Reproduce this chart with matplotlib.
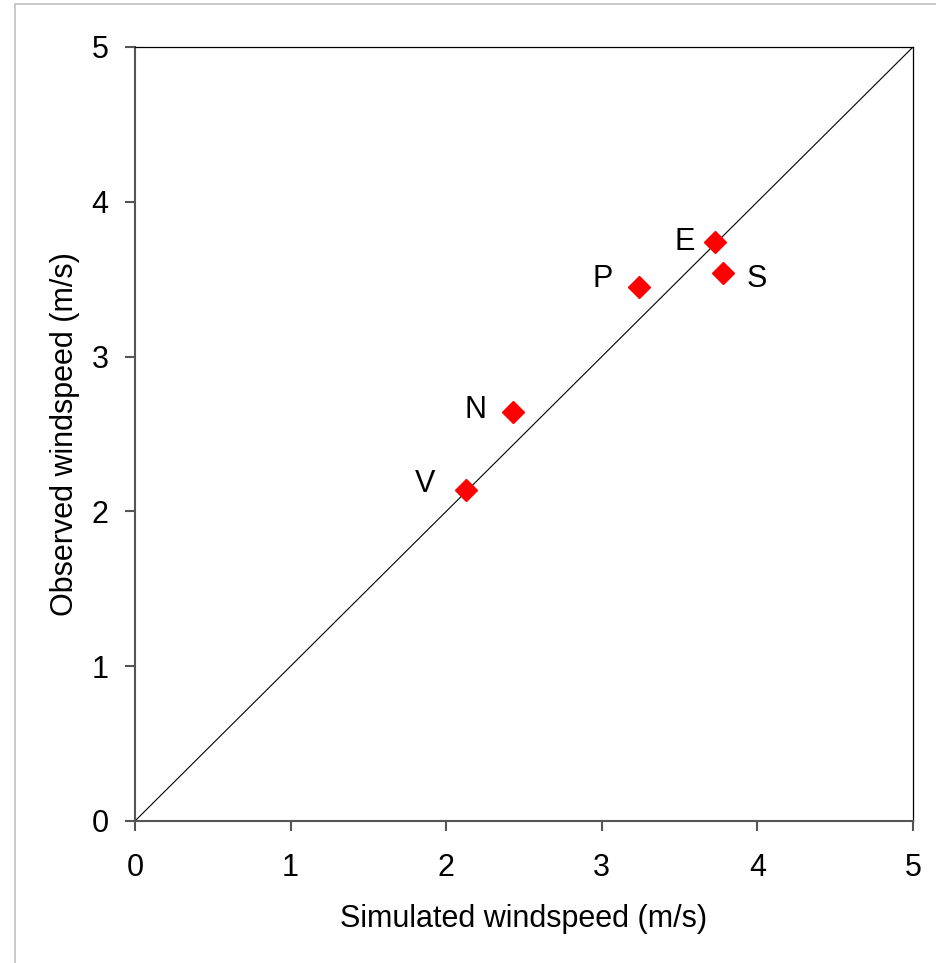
import matplotlib.pyplot as plt
from matplotlib.patches import Rectangle

plt.rcParams["font.family"] = ["Liberation Sans", "DejaVu Sans"]

# station values (m/s)
stations = ["V", "N", "P", "E", "S"]
simulated = [2.13, 2.43, 3.24, 3.73, 3.78]
observed = [2.14, 2.64, 3.45, 3.74, 3.54]
# label offsets in points (left of marker except S)
label_dx = [-30, -27, -26, -22, 24]
label_dy = [4, 1.5, 6, 0, -4]

ticks = [0, 1, 2, 3, 4, 5]

fig = plt.figure(figsize=(9.37, 9.63), dpi=100)
ax = fig.add_axes([0.1441, 0.1475, 0.8303, 0.8037])

# light frame around the figure (cut off at right/bottom)
fig.patches.append(Rectangle((15 / 937, -0.1), 1.2, 1 - 4 / 963 + 0.1,
                             transform=fig.transFigure, fill=False,
                             edgecolor="#c0c0c0", lw=1.2))

ax.plot([0, 5], [0, 5], color="black", lw=0.8, zorder=2)
ax.plot(simulated, observed, "D", color="#ff0000", ms=11.5, mec="#ff0000",
        zorder=3, clip_on=False)
for name, x, y, dx, dy in zip(stations, simulated, observed, label_dx, label_dy):
    ax.annotate(name, (x, y), xytext=(dx, dy), textcoords="offset points",
                ha="center", va="center", fontsize=22)

ax.set_xlim(0, 5)
ax.set_ylim(0, 5)
ax.set_xticks(ticks)
ax.set_yticks(ticks)
ax.tick_params(direction="out", length=7, width=1.5, color="#555555",
               labelsize=22)
ax.tick_params(axis="x", pad=16)
ax.tick_params(axis="y", pad=12)
for side in ["left", "bottom"]:
    ax.spines[side].set_color("#555555")
    ax.spines[side].set_linewidth(1.5)
for side in ["top", "right"]:
    ax.spines[side].set_color("black")
    ax.spines[side].set_linewidth(0.9)

ax.set_xlabel("Simulated windspeed (m/s)", fontsize=22, labelpad=15)
ax.set_ylabel("Observed windspeed (m/s)", fontsize=22, labelpad=8)

fig.savefig("out.png", dpi=100)
